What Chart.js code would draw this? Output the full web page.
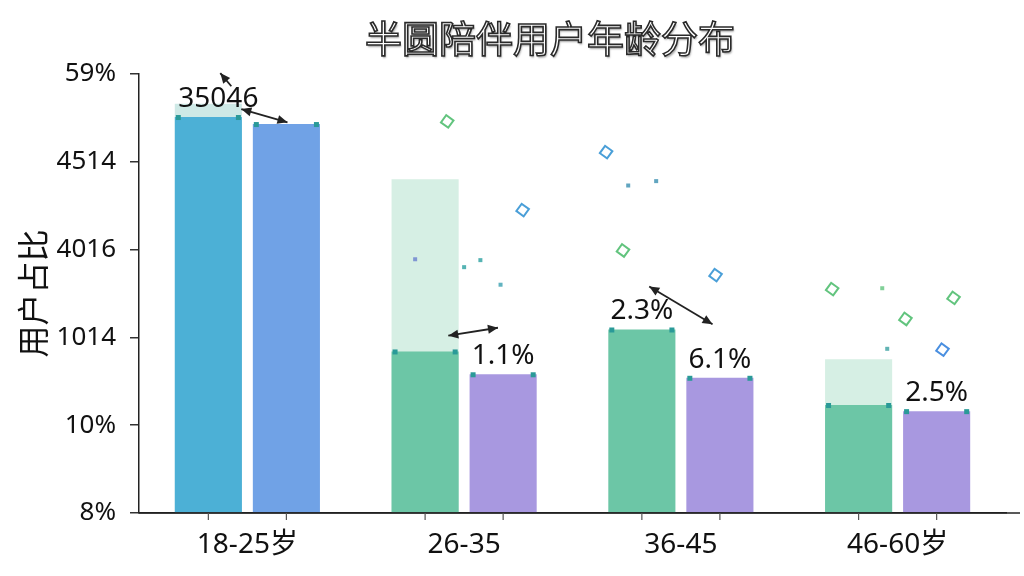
<!DOCTYPE html>
<html>
<head>
<meta charset="utf-8">
<script src="https://cdn.jsdelivr.net/npm/chart.js@4.4.1/dist/chart.umd.min.js"></script>
<style>
  html, body { margin: 0; padding: 0; background: #ffffff; }
  #wrap { position: relative; width: 1024px; height: 576px; overflow: hidden; }
  #title {
    position: absolute; left: 38px; top: 17px; width: 1024px; text-align: center;
    font-family: "Noto Sans CJK SC", sans-serif; font-size: 37px; line-height: 40px;
    color: #ffffff; -webkit-text-stroke: 1.6px #2a2a2a;
    text-shadow: 1px 2px 2px rgba(0,0,0,0.35);
  }
  #c { position: absolute; left: 0; top: 0; }
</style>
</head>
<body>
<div id="wrap">
  <canvas id="c" width="1024" height="576"></canvas>
  <div id="title">半圆陪伴用户年龄分布</div>
</div>
<script>
// ---- data ----
const categories = ["18-25岁", "26-35", "36-45", "46-60岁"];
const yTickLabels = ["8%", "10%", "1014", "4016", "4514", "59%"]; // bottom -> top
const backValues = [4.66, 3.80, null, 1.75];
const firstValues = [4.51, 1.84, 2.09, 1.23];
const secondValues = [4.43, 1.58, 1.54, 1.16];
const firstLabels = ["35046", null, "2.3%", null];
const secondLabels = [null, "1.1%", "6.1%", "2.5%"];
const firstColors = ["#4cb0d6", "#6cc6a6", "#6cc6a6", "#6cc6a6"];
const secondColors = ["#70a2e6", "#a898e0", "#a898e0", "#a898e0"];
const backColors = ["rgba(190,226,222,0.75)", "rgba(180,225,205,0.55)", "rgba(180,225,205,0.55)", "rgba(180,225,205,0.55)"];
// decorative arrows in data space: [x1, y1, x2, y2, doubleHeaded]
const arrows = [
  [-0.074, 4.86, -0.125, 5.01, false],
  [-0.028, 4.60, 0.185, 4.45, true],
  [0.927, 2.02, 1.156, 2.11, true],
  [1.854, 2.58, 2.146, 2.15, true]
];
// decorative sparkles in data space: [x, y, kind, color]
const sparkles = [
  [0.922, 4.46, "d", "#62c47e"], [1.270, 3.45, "d", "#4a9fd8"], [1.655, 4.11, "d", "#4a9fd8"],
  [1.757, 3.73, "p", "#3a8fb0"], [1.886, 3.78, "p", "#3a8fb0"], [1.733, 2.99, "d", "#62c47e"],
  [2.160, 2.71, "d", "#4a9fd8"], [0.774, 2.89, "p", "#6a7fd0"], [1.075, 2.88, "p", "#2aa0a0"],
  [1.168, 2.60, "p", "#3aa0b0"], [2.698, 2.55, "d", "#62c47e"], [2.929, 2.56, "p", "#62c47e"],
  [3.036, 2.21, "d", "#62c47e"], [3.258, 2.45, "d", "#62c47e"], [3.207, 1.86, "d", "#4a8fe0"],
  [2.952, 1.87, "p", "#3aa0a0"], [1.0, 2.80, "p", "#2aa0a0"]
];

const FONT = "'Noto Sans', 'Noto Sans CJK SC', sans-serif";

const decoPlugin = {
  id: "deco",
  afterDatasetsDraw(chart) {
    const ctx = chart.ctx;
    const x = chart.scales.x, y = chart.scales.y;
    const ca = chart.chartArea;
    ctx.save();
    ctx.strokeStyle = "#222"; ctx.lineWidth = 1.5;
    ctx.beginPath(); ctx.moveTo(ca.left, ca.bottom); ctx.lineTo(1020, ca.bottom); ctx.stroke();
    [[1, firstLabels], [2, secondLabels]].forEach(([di, labels]) => {
      const meta = chart.getDatasetMeta(di);
      meta.data.forEach((bar, i) => {
        const half = bar.width / 2;
        ctx.strokeStyle = "#555"; ctx.lineWidth = 1.2;
        ctx.beginPath(); ctx.moveTo(bar.x, ca.bottom); ctx.lineTo(bar.x, ca.bottom + 7); ctx.stroke();
        ctx.fillStyle = "#2a9a98";
        ctx.fillRect(bar.x - half + 1, bar.y - 2, 5, 5);
        ctx.fillRect(bar.x + half - 6, bar.y - 2, 5, 5);
        if (labels[i]) {
          ctx.fillStyle = "#111";
          ctx.font = "28px " + FONT;
          ctx.textAlign = "center"; ctx.textBaseline = "alphabetic";
          ctx.fillText(labels[i], bar.x + (i === 0 ? 10 : 0), bar.y - 10);
        }
      });
    });
    const head = (fx, fy, tx, ty) => {
      const a = Math.atan2(ty - fy, tx - fx), L = 10, W = 4.5;
      ctx.beginPath();
      ctx.moveTo(tx, ty);
      ctx.lineTo(tx - L * Math.cos(a) + W * Math.sin(a), ty - L * Math.sin(a) - W * Math.cos(a));
      ctx.lineTo(tx - L * Math.cos(a) - W * Math.sin(a), ty - L * Math.sin(a) + W * Math.cos(a));
      ctx.closePath(); ctx.fill();
    };
    arrows.forEach(([x1, y1, x2, y2, dbl]) => {
      const px1 = x.getPixelForValue(x1), py1 = y.getPixelForValue(y1);
      const px2 = x.getPixelForValue(x2), py2 = y.getPixelForValue(y2);
      ctx.strokeStyle = "#222"; ctx.fillStyle = "#222"; ctx.lineWidth = 1.8;
      ctx.beginPath(); ctx.moveTo(px1, py1); ctx.lineTo(px2, py2); ctx.stroke();
      head(px1, py1, px2, py2);
      if (dbl) head(px2, py2, px1, py1);
    });
    sparkles.forEach(([sx, sy, kind, col]) => {
      const px = x.getPixelForValue(sx), py = y.getPixelForValue(sy);
      if (kind === "d") {
        ctx.save(); ctx.translate(px, py); ctx.rotate(Math.PI / 5);
        ctx.strokeStyle = col; ctx.lineWidth = 2;
        ctx.strokeRect(-4.5, -4.5, 9, 9);
        ctx.restore();
      } else {
        ctx.fillStyle = col; ctx.globalAlpha = 0.8;
        ctx.fillRect(px - 2, py - 2, 4, 4);
        ctx.globalAlpha = 1;
      }
    });
    ctx.restore();
  }
};

new Chart(document.getElementById("c"), {
  type: "bar",
  data: {
    labels: categories,
    datasets: [
      { label: "back", data: backValues, backgroundColor: backColors, stack: "a", order: 10,
        categoryPercentage: 0.72, barPercentage: 0.86 },
      { label: "first", data: firstValues, backgroundColor: firstColors, stack: "a", order: 1,
        categoryPercentage: 0.72, barPercentage: 0.86 },
      { label: "second", data: secondValues, backgroundColor: secondColors, stack: "b", order: 1,
        categoryPercentage: 0.72, barPercentage: 0.86 }
    ]
  },
  options: {
    responsive: false,
    animation: false,
    devicePixelRatio: 1,
    layout: { padding: { top: 74, right: 18, bottom: 0, left: 0 } },
    plugins: { legend: { display: false }, tooltip: { enabled: false }, title: { display: false } },
    scales: {
      x: {
        afterFit: (s) => { s.height = 63; },
        grid: { display: false },
        border: { display: true, color: "#222", width: 1.5 },
        ticks: { color: "#111", padding: 7, font: { family: FONT, size: 28 }, maxRotation: 0 }
      },
      y: {
        min: 0, max: 5, stacked: false,
        afterFit: (s) => { s.width = 139; },
        afterBuildTicks: (s) => { s.ticks = yTickLabels.map((_, i) => ({ value: i })); },
        grid: { drawOnChartArea: false, tickLength: 9, color: "#333", lineWidth: 1.5 },
        border: { display: true, color: "#222", width: 1.5 },
        ticks: {
          color: "#111", padding: 14, font: { family: FONT, size: 26 },
          callback: (v) => yTickLabels[v]
        },
        title: {
          display: true, text: "用户占比", color: "#111",
          font: { family: "'Noto Sans CJK SC', sans-serif", size: 32 },
          padding: { top: 14, bottom: 0 }
        }
      }
    }
  },
  plugins: [decoPlugin]
});
</script>
</body>
</html>
